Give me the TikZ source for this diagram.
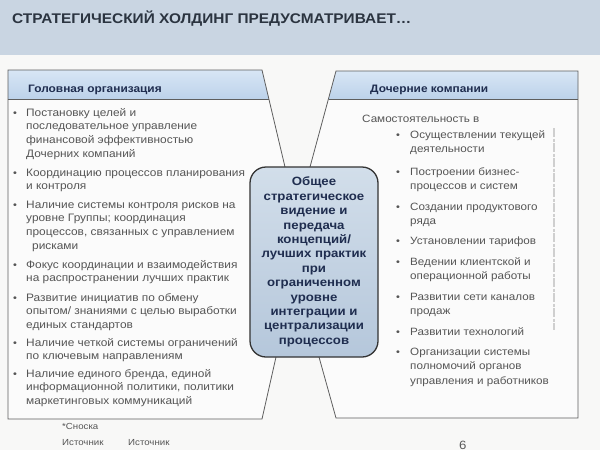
\documentclass[tikz,border=0pt]{standalone}
\usepackage{fontspec}
\setmainfont[FakeStretch=1.1]{Liberation Sans}
\definecolor{bgc}{HTML}{F8F8F7}
\definecolor{bandc}{HTML}{C9D5E2}
\definecolor{titletxt}{HTML}{2B3440}
\definecolor{navy}{HTML}{1F2D4F}
\definecolor{itemtxt}{HTML}{555555}
\definecolor{linec}{HTML}{5E5E5E}
\definecolor{hdrtop}{HTML}{D8E6F5}
\definecolor{hdrbot}{HTML}{BCD2EA}
\definecolor{hubtop}{HTML}{D2DEEA}
\definecolor{hubbot}{HTML}{B5C7DB}
\definecolor{panelc}{HTML}{FBFBFB}
\tikzset{
  itemL/.style={anchor=base west, inner sep=0pt, text=itemtxt, font=\fontsize{10.8}{13.8}\selectfont},
  itemR/.style={anchor=base west, inner sep=0pt, text=itemtxt, font=\fontsize{10.6}{14.6}\selectfont},
  bul/.style={anchor=base, inner sep=0pt, text=itemtxt, font=\fontsize{10}{12}\selectfont},
  hdr/.style={anchor=base west, inner sep=0pt, text=navy, font=\bfseries\fontsize{10.8}{12}\selectfont},
  hubbox/.style={draw=black!80, line width=1.3pt, rounded corners=16pt, top color=hubtop, bottom color=hubbot,
    minimum width=128pt, minimum height=190pt, align=center, inner sep=0pt, text=navy,
    font=\bfseries\fontsize{12}{14.4}\selectfont},
  pline/.style={draw=linec, line width=0.8pt},
  foot/.style={anchor=base west, inner sep=0pt, text=itemtxt, font=\fontsize{8.8}{10}\selectfont}
}
\begin{document}
\begin{tikzpicture}[x=1pt,y=-1pt]
\useasboundingbox (0,0) rectangle (600,450);
\fill[bgc] (0,0) rectangle (600,450);
\fill[bandc] (0,0) rectangle (600,55);
\node[anchor=base west, inner sep=0pt, text=titletxt, font=\bfseries\fontsize{14}{15}\selectfont] (title) at (12,23) {СТРАТЕГИЧЕСКИЙ ХОЛДИНГ ПРЕДУСМАТРИВАЕТ…};

% coordinates
\coordinate (LTL) at (8,70);
\coordinate (LTR) at (262,70);
\coordinate (LHR) at (268.8,99);
\coordinate (LHL) at (8,99);
\coordinate (LBL) at (8,419);
\coordinate (LBR) at (262,419);
\coordinate (RTL) at (336,71);
\coordinate (RTR) at (578,71);
\coordinate (RHL) at (328.6,99);
\coordinate (RHR) at (578,99);
\coordinate (RBL) at (336,418);
\coordinate (RBR) at (578,418);
\coordinate (JLT) at (285,167);
\coordinate (JLB) at (276,357);
\coordinate (JRT) at (310,167);
\coordinate (JRB) at (319,357);

% panel bodies
\fill[panelc] (LTL) -- (LTR) -- (JLT) -- (JLB) -- (LBR) -- (LBL) -- cycle;
\fill[panelc] (RTL) -- (RTR) -- (RBR) -- (RBL) -- (JRB) -- (JRT) -- cycle;
% headers
\shade[top color=hdrtop, bottom color=hdrbot] (LTL) -- (LTR) -- (LHR) -- (LHL) -- cycle;
\shade[top color=hdrtop, bottom color=hdrbot] (RTL) -- (RTR) -- (RHR) -- (RHL) -- cycle;
% outlines
\draw[pline] (LHL) -- (LTL) -- (LTR) -- (JLT);
\draw[pline] (JLB) -- (LBR) -- (LBL) -- (LHL);
\draw[pline] (LHL) -- (LHR);
\draw[pline] (JRT) -- (RTL) -- (RTR) -- (RBR) -- (RBL) -- (JRB);
\draw[pline] (RHL) -- (RHR);

% hub
\node[hubbox] (hub) at (314,262) {Общее\\стратегическое\\видение и\\передача\\концепций/\\лучших практик\\при\\ограниченном\\уровне\\интеграции и\\централизации\\процессов};

% headers text
\node[hdr] (hL) at (28,92) {Головная организация};
\node[hdr] (hR) at (370,92) {Дочерние компании};

% left items
\node[bul] (bL1) at (15,116) {•};
\node[itemL] (tL1) at (26,116) {\parbox[t]{238pt}{Постановку целей и\\последовательное управление\\финансовой эффективностью\\Дочерних компаний}};
\node[bul] (bL2) at (15,176) {•};
\node[itemL] (tL2) at (26,176) {\parbox[t]{238pt}{Координацию процессов планирования\\и контроля}};
\node[bul] (bL3) at (15,208) {•};
\node[itemL] (tL3) at (26,208) {\parbox[t]{238pt}{Наличие системы контроля рисков на\\уровне Группы; координация\\процессов, связанных с управлением\\\hspace*{6pt}рисками}};
\node[bul] (bL4) at (15,268) {•};
\node[itemL] (tL4) at (26,268) {\parbox[t]{238pt}{Фокус координации и взаимодействия\\на распространении лучших практик}};
\node[bul] (bL5) at (15,301) {•};
\node[itemL] (tL5) at (26,301) {\parbox[t]{238pt}{Развитие инициатив по обмену\\опытом/ знаниями с целью выработки\\единых стандартов}};
\node[bul] (bL6) at (15,346) {•};
\node[itemL] (tL6) at (26,346) {\parbox[t]{238pt}{Наличие четкой системы ограничений\\по ключевым направлениям}};
\node[bul] (bL7) at (15,377) {•};
\node[itemL] (tL7) at (26,377) {\parbox[t]{238pt}{Наличие единого бренда, единой\\информационной политики, политики\\маркетинговых коммуникаций}};

% right items
\node[itemR] (tR0) at (362,122) {Самостоятельность в};
\node[bul] (bR1) at (398,138) {•};
\node[itemR] (tR1) at (410,138) {\parbox[t]{165pt}{Осуществлении текущей\\деятельности}};
\node[bul] (bR2) at (398,175) {•};
\node[itemR] (tR2) at (410,175) {\parbox[t]{165pt}{Построении бизнес-\\процессов и систем}};
\node[bul] (bR3) at (398,210) {•};
\node[itemR] (tR3) at (410,210) {\parbox[t]{165pt}{Создании продуктового\\ряда}};
\node[bul] (bR4) at (398,244) {•};
\node[itemR] (tR4) at (410,244) {\parbox[t]{165pt}{Установлении тарифов}};
\node[bul] (bR5) at (398,265) {•};
\node[itemR] (tR5) at (410,265) {\parbox[t]{165pt}{Ведении клиентской и\\операционной работы}};
\node[bul] (bR6) at (398,300) {•};
\node[itemR] (tR6) at (410,300) {\parbox[t]{165pt}{Развитии сети каналов\\продаж}};
\node[bul] (bR7) at (398,335) {•};
\node[itemR] (tR7) at (410,335) {\parbox[t]{165pt}{Развитии технологий}};
\node[bul] (bR8) at (398,355) {•};
\node[itemR] (tR8) at (410,355) {\parbox[t]{165pt}{Организации системы\\полномочий органов\\управления и работников}};

% faint vertical mark at right
\draw[gray!38, line width=1.2pt, dash pattern=on 9pt off 1.5pt on 3pt off 1.5pt] (554,128) -- (554,330);

% footer
\node[foot] (f1) at (62,429) {*Сноска};
\node[foot] (f2) at (62,445) {Источник};
\node[foot] (f3) at (128,445) {Источник};
\node[anchor=base west, inner sep=0pt, text=black!65, font=\fontsize{12}{14}\selectfont] (pg) at (459,449) {6};
\end{tikzpicture}
\end{document}
